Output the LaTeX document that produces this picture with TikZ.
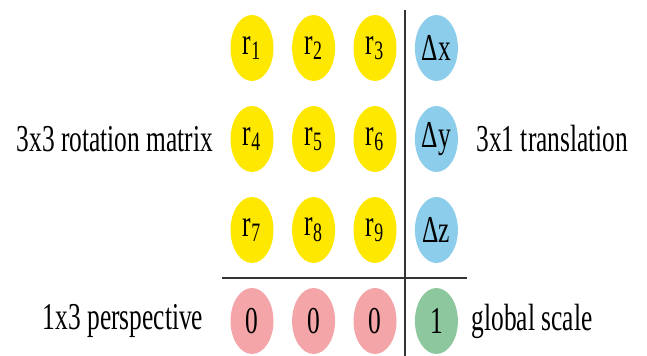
\documentclass[tikz,border=0pt]{standalone}
\usepackage{fontspec}
\setmainfont{Liberation Serif}[FakeStretch=0.67]
\usetikzlibrary{shapes.geometric,positioning}
\definecolor{rotyellow}{HTML}{FFE800}
\definecolor{transblue}{HTML}{8BCDEB}
\definecolor{perspink}{HTML}{F3A5A8}
\definecolor{scalegreen}{HTML}{8DC79E}

\begin{document}
\begin{tikzpicture}[el/.style={ellipse,minimum width=1.075cm,minimum height=1.65cm,inner sep=0pt,font=\fontsize{27}{30}\selectfont},lab/.style={inner sep=0pt,font=\fontsize{27}{30}\selectfont},sep/.style={draw=black!80,line width=.8pt}]
\useasboundingbox (0,0) rectangle (16.175,8.9);
\foreach \n/\x/\y in {1/6.3/7.7,2/7.84/7.7,3/9.375/7.7,4/6.3/5.425,5/7.84/5.425,6/9.375/5.425,7/6.3/3.15,8/7.84/3.15,9/9.375/3.15} {\node[el,fill=rotyellow] (r\n) at (\x,\y) {r\textsubscript{\n}};}
\node[el,fill=transblue] (dx) at (10.91,7.7) {Δx};
\node[el,fill=transblue] (dy) at (10.91,5.425) {Δy};
\node[el,fill=transblue] (dz) at (10.91,3.15) {Δz};
\node[el,fill=perspink] (p1) at (6.3,0.875) {0};
\node[el,fill=perspink] (p2) at (7.84,0.875) {0};
\node[el,fill=perspink] (p3) at (9.375,0.875) {0};
\node[el,fill=scalegreen] (gs) at (10.91,0.875) {1};
\node[lab,left=0.42cm of r4] (rot) {3x3 rotation matrix};
\node[lab,right=0.45cm of dy] (trans) {3x1 translation};
\node[lab,left=0.67cm of p1] (persp) {1x3 perspective};
\node[lab,right=0.33cm of gs] (glob) {global scale};
\coordinate (vtop) at (10.125,8.65); \coordinate (vbot) at (10.125,0);
\coordinate (hl) at (5.55,1.95); \coordinate (hr) at (11.675,1.95);
\draw[sep] (vtop)--(vbot); \draw[sep] (hl)--(hr);
\end{tikzpicture}
\end{document}
